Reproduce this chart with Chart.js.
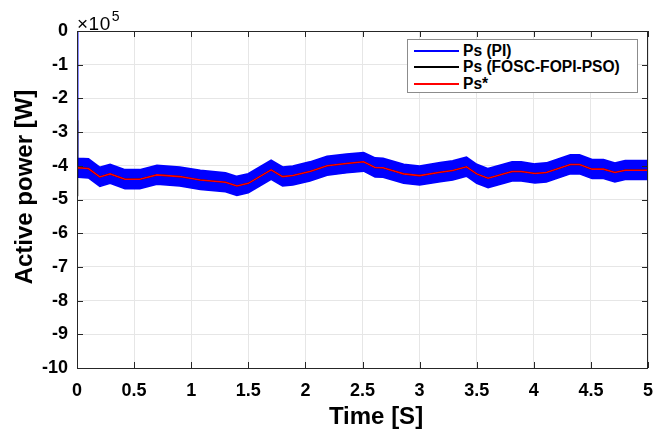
<!DOCTYPE html>
<html>
<head>
<meta charset="utf-8">
<script src="https://cdn.jsdelivr.net/npm/chart.js@4/dist/chart.umd.min.js"></script>
<style>
  html,body{margin:0;padding:0;background:#fff;}
  #wrap{position:relative;width:654px;height:437px;}
  #legend{position:absolute;left:407px;top:39px;width:229px;height:52px;border:1px solid #8c8c8c;background:#fff;
    font-family:"Liberation Sans",Arial,sans-serif;font-weight:bold;font-size:15.6px;color:#000;}
  .row{position:absolute;left:0;height:17px;line-height:17px;white-space:nowrap;}
  .sw{position:absolute;left:6px;top:8px;width:45px;height:2px;}
  .lb{position:absolute;left:55px;top:0;}
  #expo{position:absolute;left:77px;top:7px;font-family:"Liberation Sans",Arial,sans-serif;font-size:19px;letter-spacing:0.5px;color:#000;line-height:22px;}
  #expo sup{font-size:14px;position:relative;top:-2px;margin-left:1px;}
</style>
</head>
<body>
<div id="wrap">
<canvas id="c" width="654" height="437"></canvas>
<div id="expo">×10<sup>5</sup></div>
<div id="legend">
  <div class="row" style="top:2px"><div class="sw" style="background:#0000ff"></div><span class="lb">Ps (PI)</span></div>
  <div class="row" style="top:18px"><div class="sw" style="background:#000"></div><span class="lb">Ps (FOSC-FOPI-PSO)</span></div>
  <div class="row" style="top:35px"><div class="sw" style="background:#ff0000"></div><span class="lb">Ps*</span></div>
</div>
</div>
<script>
// Time samples (s)
const timeS = [0, 0.1, 0.2, 0.29, 0.42, 0.55, 0.70, 0.9, 1.08, 1.30, 1.40, 1.50, 1.70, 1.80, 1.89, 2.04, 2.19, 2.36, 2.51, 2.61, 2.68, 2.86, 3.0, 3.18, 3.29, 3.41, 3.50, 3.60, 3.81, 3.89, 4.01, 4.11, 4.32, 4.40, 4.51, 4.61, 4.71, 4.80, 5.0];
// Reference Ps* (x10^5 W)
const psRef = [-4.06, -4.08, -4.33, -4.24, -4.40, -4.40, -4.27, -4.32, -4.42, -4.49, -4.60, -4.52, -4.12, -4.32, -4.29, -4.17, -4.00, -3.93, -3.88, -4.05, -4.06, -4.24, -4.29, -4.19, -4.14, -4.03, -4.24, -4.37, -4.17, -4.17, -4.23, -4.20, -3.96, -3.96, -4.10, -4.10, -4.20, -4.13, -4.13];
// FOSC-FOPI-PSO output (tracks the reference)
const psFosc = [-4.06, -4.08, -4.33, -4.24, -4.40, -4.40, -4.27, -4.32, -4.42, -4.49, -4.60, -4.52, -4.12, -4.32, -4.29, -4.17, -4.00, -3.93, -3.88, -4.05, -4.06, -4.24, -4.29, -4.19, -4.14, -4.03, -4.24, -4.37, -4.17, -4.17, -4.23, -4.20, -3.96, -3.96, -4.10, -4.10, -4.20, -4.13, -4.13];
// PI output: upper and lower envelope of the ripple band
const psPiUpper = [-3.78, -3.80, -4.05, -3.96, -4.12, -4.12, -3.99, -4.04, -4.14, -4.21, -4.32, -4.24, -3.84, -4.04, -4.01, -3.89, -3.72, -3.66, -3.61, -3.77, -3.78, -3.96, -4.01, -3.91, -3.86, -3.75, -3.96, -4.09, -3.89, -3.89, -3.95, -3.92, -3.68, -3.68, -3.82, -3.82, -3.92, -3.85, -3.85];
const psPiLower = [-4.34, -4.36, -4.61, -4.52, -4.68, -4.68, -4.55, -4.60, -4.70, -4.77, -4.88, -4.80, -4.40, -4.60, -4.57, -4.45, -4.28, -4.21, -4.16, -4.33, -4.34, -4.52, -4.57, -4.47, -4.42, -4.31, -4.52, -4.65, -4.45, -4.45, -4.51, -4.48, -4.24, -4.24, -4.38, -4.38, -4.48, -4.41, -4.41];
// Start-up transients (time, value)
const piStartT = [0, 0.004, 0.01];  const piStartUpper = [0, -3.78, -3.78];  const piStartLower = [-4.34, -4.34, -4.34];
const foscStartT = [0.002, 0.003, 0.005]; const foscStartV = [-2.65, -4.9, -4.06];
const refStartT = [0, 0.001];      const refStartV = [-10, -4.06];
const xTicks = [0, 0.5, 1, 1.5, 2, 2.5, 3, 3.5, 4, 4.5, 5];
const yTicks = [0, -1, -2, -3, -4, -5, -6, -7, -8, -9, -10];
const xTitle = 'Time [S]';
const yTitle = 'Active power [W]';

function pts(ts, vs){ return ts.map((t,i)=>({x:t,y:vs[i]})); }
const upperPts = pts(piStartT, piStartUpper).concat(pts(timeS.slice(1), psPiUpper.slice(1)));
const lowerPts = pts(piStartT, piStartLower).concat(pts(timeS.slice(1), psPiLower.slice(1)));
const foscPts = pts(foscStartT, foscStartV).concat(pts(timeS.slice(1), psFosc.slice(1)));
const refPts = pts(refStartT, refStartV).concat(pts(timeS.slice(1), psRef.slice(1)));

const FAM = '"Liberation Sans", Arial, sans-serif';
const boxTicks = {
  id:'boxTicks',
  afterDatasetsDraw(chart){
    const {ctx, chartArea:a, scales:{x,y}} = chart;
    ctx.save();
    ctx.strokeStyle = '#262626'; ctx.lineWidth = 1;
    ctx.strokeRect(Math.round(a.left)+0.5, Math.round(a.top)+0.5, Math.round(a.right-a.left)-1, Math.round(a.bottom-a.top));
    ctx.beginPath();
    xTicks.forEach(v=>{ const px=Math.round(x.getPixelForValue(v))+0.5;
      ctx.moveTo(px,a.bottom); ctx.lineTo(px,a.bottom-6);
      ctx.moveTo(px,a.top); ctx.lineTo(px,a.top+6); });
    yTicks.forEach(v=>{ const py=Math.round(y.getPixelForValue(v))+0.5;
      ctx.moveTo(a.left,py); ctx.lineTo(a.left+6,py);
      ctx.moveTo(a.right,py); ctx.lineTo(a.right-6,py); });
    ctx.stroke();
    // axis titles
    ctx.fillStyle = '#000';
    ctx.font = 'bold 24px ' + FAM;
    ctx.textAlign = 'center'; ctx.textBaseline = 'middle';
    ctx.fillText(xTitle, 376, 417);
    ctx.translate(25, 187); ctx.rotate(-Math.PI/2);
    ctx.fillText(yTitle, 0, 0);
    ctx.restore();
  }
};

const font = {family:FAM, weight:'bold'};
new Chart(document.getElementById('c'), {
  type:'line',
  data:{ datasets:[
    {label:'Ps*', data:refPts, borderColor:'#ff0000', borderWidth:1.6, pointRadius:0, fill:false, order:0, tension:0},
    {label:'Ps (FOSC-FOPI-PSO)', data:foscPts, borderColor:'#000000', borderWidth:1.6, pointRadius:0, fill:false, order:1, tension:0},
    {label:'Ps (PI) upper', data:upperPts, borderColor:'#0000ff', backgroundColor:'#0000ff', borderWidth:2, pointRadius:0, fill:'+1', order:2, tension:0},
    {label:'Ps (PI) lower', data:lowerPts, borderColor:'#0000ff', borderWidth:1.5, pointRadius:0, fill:false, order:3, tension:0}
  ]},
  options:{
    responsive:false, animation:false,
    layout:{padding:{top:31, right:6, left:0, bottom:0}},
    plugins:{legend:{display:false}, tooltip:{enabled:false}},
    scales:{
      x:{type:'linear', min:0, max:5,
        afterBuildTicks(s){ s.ticks = xTicks.map(v=>({value:v})); },
        afterFit(s){ s.height = 69; s.paddingLeft = 0; s.paddingRight = 0; },
        grid:{color:'#e6e6e6', drawTicks:false},
        border:{display:false},
        ticks:{padding:12, color:'#000', font:{...font, size:18}, callback:v=>String(v), maxRotation:0},
        title:{display:false}
      },
      y:{type:'linear', min:-10, max:0,
        afterBuildTicks(s){ s.ticks = yTicks.map(v=>({value:v})); },
        afterFit(s){ s.width = 77; s.paddingTop = 0; s.paddingBottom = 0; },
        grid:{color:'#e6e6e6', drawTicks:false},
        border:{display:false},
        ticks:{padding:9, color:'#000', font:{...font, size:18}, callback:v=>String(v)},
        title:{display:false}
      }
    }
  },
  plugins:[boxTicks]
});
</script>
</body>
</html>
